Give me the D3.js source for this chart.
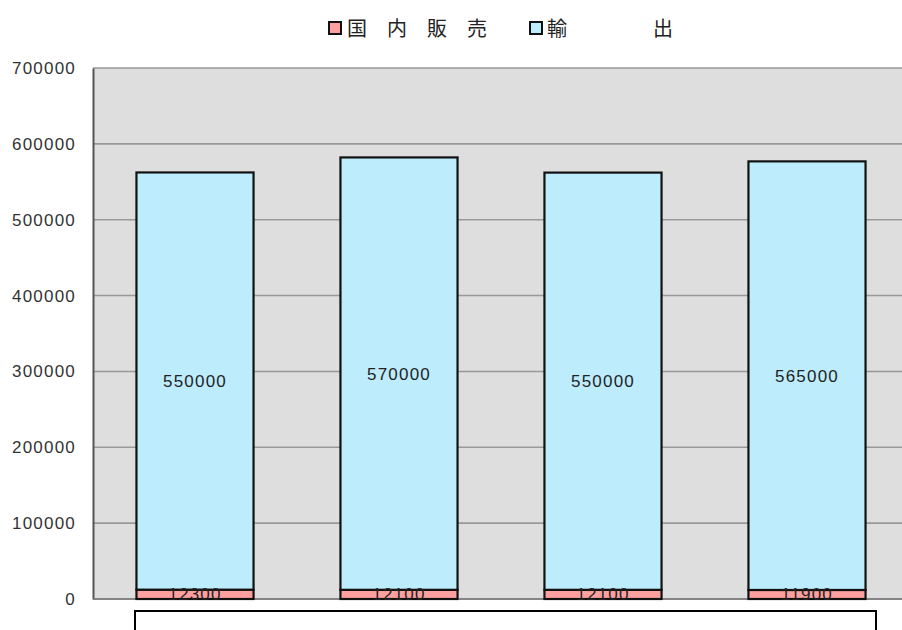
<!DOCTYPE html>
<html><head><meta charset="utf-8">
<script src="https://cdn.jsdelivr.net/npm/d3@7"></script>
<style>body{margin:0;background:#fff}svg{display:block}text{font-family:"Liberation Sans","Noto Sans CJK JP",sans-serif}</style>
</head><body>
<svg id="c" width="902" height="630"></svg>
<script>
const categories = ["A", "B", "C", "D"];
const seriesNames = ["国内販売", "輸出"];
const domestic = [12300, 12100, 12100, 11900];
const exportVals = [550000, 570000, 550000, 565000];
const yTicks = [0, 100000, 200000, 300000, 400000, 500000, 600000, 700000];
const colors = ["#ffa0a0", "#bdedfd"];

const svg = d3.select("#c");
const mLeft = 93, mRight = 909, mTop = 68, mBottom = 599;
const x = d3.scaleBand().domain(categories).range([mLeft, mRight]).paddingInner(0.426).paddingOuter(0.213);
const y = d3.scaleLinear().domain([0, 700000]).range([mBottom, mTop]);

const data = categories.map((c, i) => ({cat: c, domestic: domestic[i], export: exportVals[i]}));
const stack = d3.stack().keys(["domestic", "export"])(data);

svg.append("rect").attr("x", mLeft).attr("y", mTop).attr("width", 902 - mLeft).attr("height", mBottom - mTop).attr("fill", "#dedede");

svg.append("g").selectAll("line").data(yTicks).join("line")
  .attr("x1", mLeft).attr("x2", 902).attr("y1", d => y(d)).attr("y2", d => y(d))
  .attr("stroke", "#999").attr("stroke-width", 1.6);

const yAxis = svg.append("g").attr("transform", `translate(${mLeft},0)`)
  .call(d3.axisLeft(y).tickValues(yTicks).tickSize(0).tickPadding(17).tickFormat(d3.format("d")));
yAxis.select(".domain").attr("stroke", "#555").attr("stroke-width", 2);
yAxis.selectAll("text").attr("font-size", 17).attr("fill", "#333").attr("letter-spacing", 1.2);

svg.append("line").attr("x1", mLeft).attr("x2", 902).attr("y1", mBottom).attr("y2", mBottom).attr("stroke", "#777").attr("stroke-width", 1.6);

stack.forEach((s, si) => {
  svg.append("g").selectAll("rect").data(s).join("rect")
    .attr("x", d => x(d.data.cat)).attr("width", x.bandwidth())
    .attr("y", d => y(d[1])).attr("height", d => y(d[0]) - y(d[1]))
    .attr("fill", colors[si]).attr("stroke", "#111").attr("stroke-width", 2.2);
});
stack.forEach((s, si) => {
  svg.append("g").selectAll("text").data(s).join("text")
    .attr("x", d => x(d.data.cat) + x.bandwidth() / 2)
    .attr("y", d => (y(d[0]) + y(d[1])) / 2)
    .attr("dy", "0.35em").attr("text-anchor", "middle")
    .attr("font-size", 17).attr("letter-spacing", 1.2).attr("fill", "#222")
    .text(d => d[1] - d[0]);
});

// category label box (empty)
svg.append("rect").attr("x", 135).attr("y", 611).attr("width", 741).attr("height", 40)
  .attr("fill", "#fff").attr("stroke", "#000").attr("stroke-width", 2);

// legend
const legendPos = [{sx: 329, tx: 347, ls: 20}, {sx: 530, tx: 547, ls: 86}];
seriesNames.forEach((n, i) => {
  const p = legendPos[i];
  svg.append("rect").attr("x", p.sx).attr("y", 22).attr("width", 12).attr("height", 12)
    .attr("fill", colors[i]).attr("stroke", "#111").attr("stroke-width", 2);
  svg.append("text").attr("x", p.tx).attr("y", 36).attr("font-size", 20)
    .attr("font-family", "Noto Sans CJK JP").attr("fill", "#222")
    .attr("letter-spacing", p.ls).text(n);
});
</script>
</body></html>
